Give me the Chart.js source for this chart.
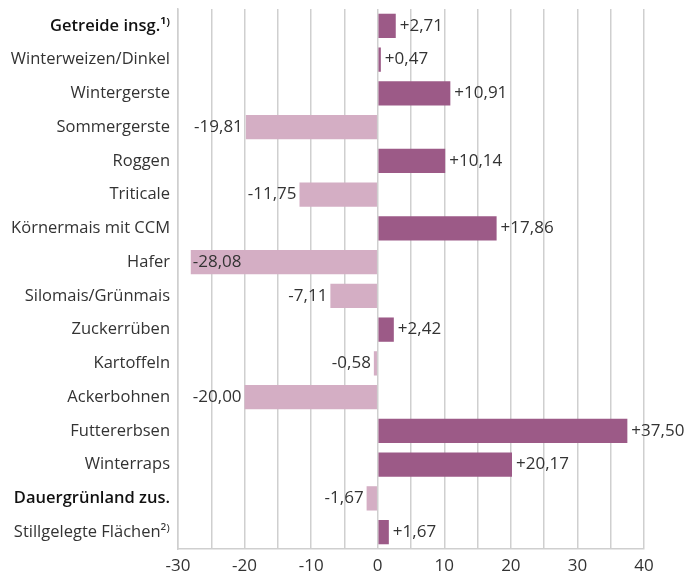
<!DOCTYPE html>
<html>
<head>
<meta charset="utf-8">
<script src="https://cdn.jsdelivr.net/npm/chart.js@4.4.1/dist/chart.umd.min.js"></script>
<style>
  html, body { margin: 0; padding: 0; background: #fff; }
  #wrap { width: 687px; height: 573px; position: relative; }
</style>
</head>
<body>
<div id="wrap"><canvas id="chart"></canvas></div>
<script>
// Kategorien und Veränderungen in %
const categories = [
  'Getreide insg.¹⁾', 'Winterweizen/Dinkel', 'Wintergerste', 'Sommergerste',
  'Roggen', 'Triticale', 'Körnermais mit CCM', 'Hafer', 'Silomais/Grünmais',
  'Zuckerrüben', 'Kartoffeln', 'Ackerbohnen', 'Futtererbsen', 'Winterraps',
  'Dauergrünland zus.', 'Stillgelegte Flächen²⁾'
];
const values = [
  2.71, 0.47, 10.91, -19.81, 10.14, -11.75, 17.86, -28.08, -7.11,
  2.42, -0.58, -20.00, 37.50, 20.17, -1.67, 1.67
];
const boldRows = [0, 14];
const xTicks = [-30, -20, -10, 0, 10, 20, 30, 40];

const posColor = '#9c5a87';
const negColor = '#d4aec4';
const FONT = '"Open Sans", "Noto Sans", sans-serif';

function fmt(v) {
  const s = Math.abs(v).toFixed(2).replace('.', ',');
  return (v < 0 ? '-' : '+') + s;
}

const valueLabels = {
  id: 'valueLabels',
  afterDatasetsDraw(chart) {
    const ctx = chart.ctx;
    const meta = chart.getDatasetMeta(0);
    ctx.save();
    ctx.font = '17px ' + FONT;
    ctx.fillStyle = '#333';
    ctx.textBaseline = 'middle';
    meta.data.forEach((bar, i) => {
      const v = values[i];
      const txt = fmt(v);
      const w = ctx.measureText(txt).width;
      if (v >= 0) {
        ctx.textAlign = 'left';
        ctx.fillText(txt, bar.x + 4, bar.y);
      } else if (bar.x - 4 - w < chart.chartArea.left) {
        ctx.textAlign = 'left';
        ctx.fillText(txt, bar.x + 2, bar.y);
      } else {
        ctx.textAlign = 'right';
        ctx.fillText(txt, bar.x - 3, bar.y);
      }
    });
    ctx.restore();
  }
};

new Chart(document.getElementById('chart'), {
  type: 'bar',
  data: {
    labels: categories,
    datasets: [{
      data: values,
      backgroundColor: values.map(v => v >= 0 ? posColor : negColor),
      categoryPercentage: 1,
      barPercentage: 0.72
    }]
  },
  options: {
    indexAxis: 'y',
    responsive: true,
    maintainAspectRatio: false,
    animation: false,
    layout: { padding: { top: 9, right: 43, left: 0, bottom: 0 } },
    plugins: {
      legend: { display: false },
      tooltip: { enabled: false }
    },
    scales: {
      x: {
        min: -30,
        max: 40,
        afterFit: (s) => {
          s.height = 24;
          s.paddingLeft = 0;
          s.paddingRight = 0;
        },
        afterBuildTicks: (s) => {
          const t = [];
          for (let v = -30; v <= 40; v += 5) t.push({ value: v });
          s.ticks = t;
        },
        grid: { color: '#cfcfcf', lineWidth: 1.5, drawTicks: false },
        border: { color: '#cfcfcf', width: 1.5 },
        ticks: {
          padding: 7,
          color: '#333',
          font: { family: FONT, size: 17 },
          maxRotation: 0,
          autoSkip: false,
          callback: (v) => xTicks.includes(v) ? String(v) : ''
        }
      },
      y: {
        afterFit: (s) => {
          s.width = 178;
          s.paddingTop = 0;
          s.paddingBottom = 0;
        },
        grid: { display: false, drawTicks: false },
        border: { color: '#cfcfcf', width: 1.5 },
        ticks: {
          padding: 8,
          autoSkip: false,
          color: (c) => boldRows.includes(c.index) ? '#111' : '#333',
          font: (c) => ({
            family: FONT,
            size: 16.5,
            weight: boldRows.includes(c.index) ? '600' : '400'
          })
        }
      }
    }
  },
  plugins: [valueLabels]
});
</script>
</body>
</html>
